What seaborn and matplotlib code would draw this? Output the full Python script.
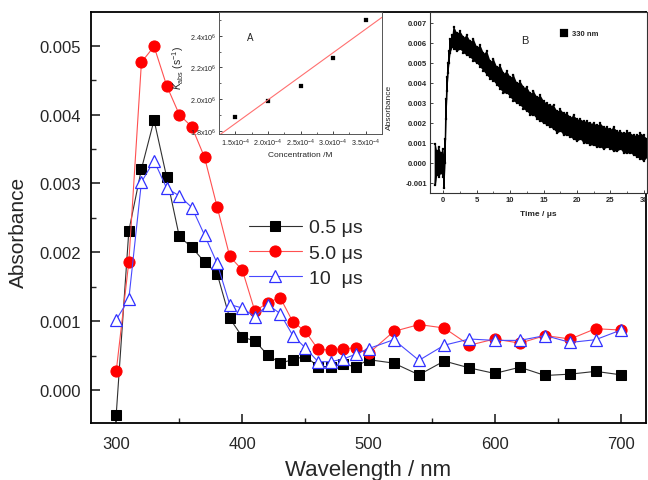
import numpy as np
import seaborn as sns
import matplotlib
matplotlib.use('Agg')
from matplotlib import pyplot as plt
from matplotlib.ticker import MultipleLocator

# Main transient spectra
wavelength = [300, 310, 320, 330, 340, 350, 360, 370, 380, 390, 400, 410, 420, 430, 440,
              450, 460, 470, 480, 490, 500, 520, 540, 560, 580, 600, 620, 640, 660, 680, 700]
abs_05us = [-0.00036, 0.00231, 0.00321, 0.00392, 0.00309, 0.00223, 0.00207, 0.00186, 0.00169,
            0.00104, 0.00077, 0.00071, 0.00051, 0.00039, 0.00044, 0.00049, 0.00034, 0.00034,
            0.00037, 0.00034, 0.00044, 0.00039, 0.00022, 0.00042, 0.00032, 0.00024, 0.00033,
            0.00021, 0.00023, 0.00027, 0.00022]
abs_5us = [0.00027, 0.00186, 0.00476, 0.00499, 0.00442, 0.00400, 0.00382, 0.00338, 0.00266,
           0.00194, 0.00174, 0.00114, 0.00127, 0.00134, 0.00099, 0.00085, 0.00059, 0.00058,
           0.00060, 0.00061, 0.00053, 0.00085, 0.00095, 0.00090, 0.00065, 0.00074, 0.00068,
           0.00079, 0.00074, 0.00089, 0.00087]
abs_10us = [0.00102, 0.00132, 0.00302, 0.00333, 0.00293, 0.00282, 0.00265, 0.00225, 0.00184,
            0.00124, 0.00119, 0.00106, 0.00124, 0.00111, 0.00079, 0.00061, 0.00041, 0.00041,
            0.00045, 0.00052, 0.00060, 0.00073, 0.00043, 0.00065, 0.00074, 0.00072, 0.00072,
            0.00079, 0.00069, 0.00073, 0.00087]
series_labels = ['0.5 μs', '5.0 μs', '10  μs']

# Inset A: k_abs vs concentration
conc = [1.5e-4, 2.0e-4, 2.5e-4, 3.0e-4, 3.5e-4]
k_abs = [1.89e6, 1.99e6, 2.08e6, 2.26e6, 2.50e6]
conc_ticks = [1.5e-4, 2.0e-4, 2.5e-4, 3.0e-4, 3.5e-4]
conc_ticklabels = [r'1.5x10$^{-4}$', r'2.0x10$^{-4}$', r'2.5x10$^{-4}$', r'3.0x10$^{-4}$', r'3.5x10$^{-4}$']
k_ticks = [1.8e6, 2.0e6, 2.2e6, 2.4e6]
k_ticklabels = [r'1.8x10$^{6}$', r'2.0x10$^{6}$', r'2.2x10$^{6}$', r'2.4x10$^{6}$']

# Inset B: kinetic trace at 330 nm (upper / lower edges of the noisy band)
trace_t = [-1.2, -1.0, -0.7, -0.4, -0.1, 0.1, 0.25, 0.4, 0.55, 0.7, 0.85, 1.0, 1.3, 1.6, 2.0,
           2.5, 3, 3.5, 4, 4.5, 5, 5.5, 6, 6.5, 7, 7.5, 8, 8.5, 9, 9.5, 10, 10.5, 11, 11.5, 12,
           12.5, 13, 13.5, 14, 14.5, 15, 15.5, 16, 16.5, 17, 17.5, 18, 18.5, 19, 19.5, 20, 20.5,
           21, 21.5, 22, 22.5, 23, 23.5, 24, 24.5, 25, 25.5, 26, 26.5, 27, 27.5, 28, 28.5, 29,
           29.5, 30, 30.5]
trace_hi = [0.00095, 0.0006, 0.0008, 0.0005, 0.0007, 0.0003, 0.0012, 0.0032, 0.0043, 0.0050,
            0.0056, 0.0062, 0.0064, 0.0068, 0.0065, 0.0066, 0.0063, 0.0064, 0.0061, 0.0062,
            0.0058, 0.0059, 0.0055, 0.0056, 0.0051, 0.0052, 0.0048, 0.0049, 0.0045, 0.0046,
            0.0043, 0.0044, 0.0040, 0.0041, 0.0038, 0.0038, 0.0035, 0.0036, 0.0033, 0.0034,
            0.0031, 0.0030, 0.0029, 0.0029, 0.0026, 0.0027, 0.0025, 0.0025, 0.0023, 0.0024,
            0.0022, 0.0022, 0.0021, 0.0021, 0.0020, 0.0020, 0.0019, 0.0020, 0.0018, 0.0018,
            0.0017, 0.0018, 0.0016, 0.0016, 0.0015, 0.0016, 0.0015, 0.0014, 0.0014, 0.0015,
            0.0014, 0.0012]
trace_lo = [-0.0011, -0.0006, -0.0007, -0.0005, -0.0007, -0.00126, 0.0000, 0.0022, 0.0036,
            0.0045, 0.0050, 0.0055, 0.0058, 0.0057, 0.0056, 0.0057, 0.0055, 0.0054, 0.0053,
            0.0051, 0.0050, 0.0048, 0.0046, 0.0044, 0.0042, 0.0041, 0.0039, 0.0037, 0.0035,
            0.0035, 0.0033, 0.0031, 0.0030, 0.0029, 0.0027, 0.0026, 0.0024, 0.0024, 0.0022,
            0.0021, 0.0020, 0.0019, 0.0018, 0.0017, 0.0015, 0.0016, 0.0014, 0.0014, 0.0013,
            0.0012, 0.0011, 0.0012, 0.0010, 0.0010, 0.0009, 0.0009, 0.0008, 0.0008, 0.0007,
            0.0008, 0.0007, 0.0006, 0.0006, 0.0007, 0.0005, 0.0005, 0.0005, 0.0004, 0.0003,
            0.0002, 0.0001, 0.0003]

sns.set_style('ticks')
plt.rcParams['font.family'] = ['Liberation Sans', 'DejaVu Sans']
plt.rcParams['mathtext.fontset'] = 'custom'
plt.rcParams['mathtext.rm'] = 'Liberation Sans'
plt.rcParams['mathtext.it'] = 'Liberation Sans:italic'

fig = plt.figure(figsize=(6.48, 4.81), dpi=100)
ax = fig.add_axes([0.1404, 0.1185, 0.8566, 0.8545])

sns.lineplot(x=wavelength, y=abs_05us, ax=ax, color='#303030', lw=0.8, marker='s',
             markersize=7, markerfacecolor='black', markeredgecolor='black', label=series_labels[0])
sns.lineplot(x=wavelength, y=abs_5us, ax=ax, color='#ff5050', lw=0.8, marker='o',
             markersize=8, markerfacecolor='red', markeredgecolor='red', label=series_labels[1])
sns.lineplot(x=wavelength, y=abs_10us, ax=ax, color='#4848ff', lw=0.8, marker='^',
             markersize=8.5, markerfacecolor='white', markeredgecolor='#3030ff',
             markeredgewidth=0.9, label=series_labels[2])

ax.set_xlim(280, 720)
ax.set_ylim(-0.00048, 0.00549)
ax.xaxis.set_major_locator(MultipleLocator(100))
ax.xaxis.set_minor_locator(MultipleLocator(50))
ax.yaxis.set_major_locator(MultipleLocator(0.001))
ax.yaxis.set_minor_locator(MultipleLocator(0.0005))
ax.yaxis.set_major_formatter(matplotlib.ticker.FormatStrFormatter('%.3f'))
ax.tick_params(which='both', bottom=True, left=True, top=False, right=False)
ax.tick_params(which='major', direction='in', length=6.5, width=1.2, labelsize=12, pad=7)
ax.tick_params(which='minor', direction='in', length=3.5, width=1.0)
ax.tick_params(axis='x', which='major', pad=9)
for s in ax.spines.values():
    s.set_visible(True)
    s.set_linewidth(1.3)
    s.set_color('black')
ax.set_ylabel('Absorbance', fontsize=15)
ax.yaxis.set_label_coords(-0.113, 0.465)
ax.set_xlabel('Wavelength / nm', fontsize=16, va='top')
ax.xaxis.set_label_coords(0.5, -0.088)
ax.legend(loc='upper left', bbox_to_anchor=(0.285, 0.497), frameon=False, fontsize=14,
          handlelength=2.7, handletextpad=0.4, labelspacing=0.4, borderpad=0, borderaxespad=0)

# Inset A
axa = fig.add_axes([219 / 648, 1 - 135 / 481, 163 / 648, 122 / 481])
axa.set_xlim(1.25e-4, 3.75e-4)
axa.set_ylim(1.78e6, 2.55e6)
sns.regplot(x=conc, y=k_abs, ax=axa, ci=None, truncate=False, scatter=False,
            line_kws=dict(color='#ff7070', lw=0.8))
sns.scatterplot(x=conc, y=k_abs, ax=axa, color='black', marker='s', s=5, edgecolor='black')
axa.set_xlim(1.25e-4, 3.75e-4)
axa.set_ylim(1.78e6, 2.55e6)
axa.set_xticks(conc_ticks)
axa.set_xticklabels(conc_ticklabels)
axa.set_yticks(k_ticks)
axa.set_yticklabels(k_ticklabels)
axa.xaxis.set_minor_locator(MultipleLocator(0.25e-4))
axa.yaxis.set_minor_locator(MultipleLocator(0.1e6))
axa.tick_params(which='both', bottom=True, left=True)
axa.tick_params(which='major', direction='in', length=2.5, width=0.6, labelsize=5.2, pad=2)
axa.tick_params(which='minor', direction='in', length=1.5, width=0.5)
for s in axa.spines.values():
    s.set_visible(True)
    s.set_linewidth(0.7)
    s.set_color('#555555')
axa.set_xlabel('Concentration /M', fontsize=6, labelpad=2)
axa.set_ylabel(r'$K_{\rm abs}$ (s$^{-1}$)', fontsize=7.5)
axa.yaxis.set_label_coords(-0.2, 0.55)
axa.text(0.17, 0.77, 'A', transform=axa.transAxes, fontsize=7)

# Inset B
axb = fig.add_axes([430 / 648, 1 - 194 / 481, 217 / 648, 181 / 481])
axb.fill_between(trace_t, trace_lo, trace_hi, color='black', lw=0)
zig_t = [t for t in trace_t for _ in (0, 1)]
zig_y = [v for pair in zip(trace_hi, trace_lo) for v in pair]
sns.lineplot(x=zig_t, y=zig_y, ax=axb, sort=False, estimator=None, color='black', lw=1.0)
sns.scatterplot(x=trace_t + trace_t, y=trace_hi + trace_lo, ax=axb, color='black', marker='s',
                s=4, edgecolor='black', label='330 nm')
axb.set_xlim(-2, 30.5)
axb.set_ylim(-0.0015, 0.00755)
axb.xaxis.set_major_locator(MultipleLocator(5))
axb.xaxis.set_minor_locator(MultipleLocator(2.5))
axb.yaxis.set_major_locator(MultipleLocator(0.001))
axb.yaxis.set_major_formatter(matplotlib.ticker.FormatStrFormatter('%.3f'))
axb.tick_params(which='both', bottom=True, left=True)
axb.tick_params(which='major', direction='in', length=2.5, width=0.6, labelsize=5.5, pad=2)
axb.tick_params(which='minor', direction='in', length=1.5, width=0.5)
for lab in axb.get_xticklabels() + axb.get_yticklabels():
    lab.set_fontweight('bold')
for s in axb.spines.values():
    s.set_visible(True)
    s.set_linewidth(0.8)
    s.set_color('#333333')
axb.set_xlabel('Time / μs', fontsize=6, fontweight='bold', labelpad=5)
axb.set_ylabel('Absorbance', fontsize=6)
axb.yaxis.set_label_coords(-0.17, 0.48)
axb.text(0.42, 0.83, 'B', transform=axb.transAxes, fontsize=8)
leg = axb.legend(loc='upper left', bbox_to_anchor=(0.6, 0.9), frameon=False, fontsize=5.5,
                 markerscale=3, handlelength=1, handletextpad=0.6, borderpad=0, borderaxespad=0)
for t in leg.get_texts():
    t.set_fontweight('bold')

fig.savefig('out.png', dpi=100)
